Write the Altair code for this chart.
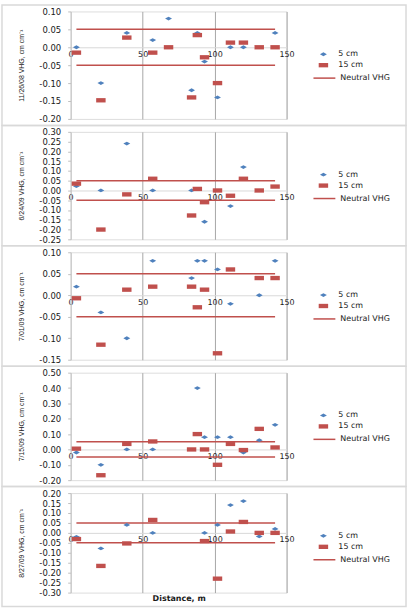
import altair as alt
import pandas as pd

# Sampling positions along the transect (m)
distance = [4, 21, 39, 57, 68, 84, 88, 93, 102, 111, 120, 131, 142]

dates = ["11/26/08", "6/24/09", "7/01/09", "7/15/09", "8/27/09"]

# Vertical hydraulic gradient (cm cm-1) at 5 cm depth, one list per survey
vhg_5cm_081126 = [0.00, -0.10, 0.04, 0.02, 0.08, -0.12, 0.04, -0.04, -0.14, 0.00, 0.00, None, 0.04]
vhg_5cm_090624 = [0.022, 0.00, 0.24, 0.00, None, 0.00, None, -0.16, None, -0.08, 0.12, None, None]
vhg_5cm_090701 = [0.02, -0.04, -0.10, 0.08, None, 0.04, 0.08, 0.08, 0.06, -0.02, None, 0.00, 0.08]
vhg_5cm_090715 = [-0.02, -0.10, 0.00, 0.00, None, None, 0.40, 0.08, 0.08, 0.08, -0.02, 0.06, 0.16]
vhg_5cm_090827 = [-0.02, -0.078, 0.04, 0.00, None, None, None, 0.00, 0.04, 0.14, 0.16, -0.018, 0.02]

# Vertical hydraulic gradient (cm cm-1) at 15 cm depth
vhg_15cm_081126 = [-0.015, -0.148, 0.027, -0.015, 0.00, -0.14, 0.034, -0.028, -0.10, 0.013, 0.013, 0.00, 0.00]
vhg_15cm_090624 = [0.035, -0.20, -0.02, 0.06, None, -0.128, 0.008, -0.06, 0.00, -0.027, 0.06, 0.00, 0.02]
vhg_15cm_090701 = [-0.007, -0.115, 0.013, 0.02, None, 0.02, -0.028, 0.013, -0.135, 0.06, None, 0.04, 0.04]
vhg_15cm_090715 = [0.005, -0.168, 0.036, 0.052, None, 0.00, 0.10, 0.00, -0.10, 0.036, -0.004, 0.134, 0.013]
vhg_15cm_090827 = [-0.031, -0.166, -0.053, 0.065, None, None, None, -0.041, -0.23, 0.007, 0.055, 0.00, 0.00]

vhg_5cm = [vhg_5cm_081126, vhg_5cm_090624, vhg_5cm_090701, vhg_5cm_090715, vhg_5cm_090827]
vhg_15cm = [vhg_15cm_081126, vhg_15cm_090624, vhg_15cm_090701, vhg_15cm_090715, vhg_15cm_090827]

# Y axis ranges and tick labels for each survey panel
y_ticks = [
    [-0.20, -0.15, -0.10, -0.05, 0.00, 0.05, 0.10],
    [-0.25, -0.20, -0.15, -0.10, -0.05, 0.00, 0.05, 0.10, 0.15, 0.20, 0.25, 0.30],
    [-0.15, -0.10, -0.05, 0.00, 0.05, 0.10],
    [-0.20, -0.10, 0.00, 0.10, 0.20, 0.30, 0.40, 0.50],
    [-0.30, -0.25, -0.20, -0.15, -0.10, -0.05, 0.00, 0.05, 0.10, 0.15, 0.20],
]
x_ticks = [0, 50, 100, 150]

# Neutral VHG band (+/- 0.05) drawn across the sampled reach
neutral_vhg = [-0.05, 0.05]
neutral_span = [4, 142]

series_names = ["5 cm", "15 cm"]
series_colors = ["#4F81BD", "#C0504D"]
neutral_color = "#C0504D"

# flattened marker outlines (unit coordinates)
diamond_path = "M-1,0L0,-0.55L1,0L0,0.55Z"
rect_path = "M-1,-0.46L1,-0.46L1,0.46L-1,0.46Z"

FONT = "DejaVu Sans"
TEXT = "#1a1a1a"
PLOT_W = 217


def panel(i, height, last):
    ticks = y_ticks[i]
    lo, hi = ticks[0], ticks[-1]

    rows = []
    for name, values in zip(series_names, [vhg_5cm[i], vhg_15cm[i]]):
        for d, v in zip(distance, values):
            if v is not None:
                rows.append({"distance": d, "vhg": v, "series": name})
    points = pd.DataFrame(rows)

    neutral = pd.DataFrame(
        {"vhg": neutral_vhg, "start": neutral_span[0], "end": neutral_span[1],
         "kind": "Neutral VHG"}
    )

    x_scale = alt.Scale(domain=[0, 150], nice=False, zero=False)
    y_scale = alt.Scale(domain=[lo, hi], nice=False, zero=False)

    # horizontal axis crosses at vhg = 0
    zero_offset = -height * (0 - lo) / (hi - lo)

    x_axis = alt.Axis(
        values=x_ticks,
        offset=zero_offset,
        grid=True,
        gridColor="#a6a6a6",
        gridWidth=1,
        gridOpacity={"condition": {"test": "datum.value === 0", "value": 0}, "value": 1},
        domainColor="#d9d9d9",
        domainWidth=1,
        ticks=False,
        labelOverlap=False,
        labelPadding=3,
        labelFont=FONT,
        labelFontSize=8,
        labelColor=TEXT,
        labelFlush=False,
        title="Distance, m" if last else None,
        titleFont=FONT,
        titleFontSize=8,
        titleFontWeight="bold",
        titleColor=TEXT,
        titleBaseline="top",
        titleY=61.5,
    )
    y_axis = alt.Axis(
        values=ticks,
        format=".2f",
        grid=False,
        domain=True,
        domainColor="#bfbfbf",
        domainWidth=1,
        ticks=True,
        tickColor="#bfbfbf",
        tickSize=3,
        labelOverlap=False,
        labelPadding=7,
        labelFont=FONT,
        labelFontSize=8.5,
        labelColor=TEXT,
        labelFlush=False,
        title=f"{dates[i]} VHG, cm cm\u207b\u00b9",
        titleFont="Liberation Sans",
        titleFontSize=7,
        titleFontWeight="normal",
        titleColor=TEXT,
        titlePadding=14,
    )

    bottom_pad = 14 if last else 6.5
    frame = alt.Chart(alt.Data(values=[{"frame": 1}])).mark_rect(
        fillOpacity=0, stroke="#d9d9d9", strokeWidth=1.5
    ).encode(
        x=alt.value(-69), x2=alt.value(337),
        y=alt.value(-6.5), y2=alt.value(height + bottom_pad),
    )

    legend_font = dict(labelFont=FONT, labelFontSize=8, labelColor=TEXT, title=None,
                       orient="none", rowPadding=2)

    rules = alt.Chart(neutral).mark_rule(strokeWidth=1.5).encode(
        x=alt.X("start:Q", scale=x_scale, axis=x_axis),
        x2="end:Q",
        y=alt.Y("vhg:Q", scale=y_scale, axis=y_axis),
        stroke=alt.Stroke(
            "kind:N",
            scale=alt.Scale(domain=["Neutral VHG"], range=[neutral_color]),
            legend=alt.Legend(legendX=243, legendY=55, symbolType="stroke",
                              symbolSize=484, symbolStrokeWidth=1.5, **legend_font),
        ),
    )

    leg = alt.Legend(legendX=249, legendY=39, symbolStrokeWidth=0, labelOffset=10,
                     **legend_font)
    marks = alt.Chart(points).mark_point(filled=True, opacity=1, strokeWidth=0).encode(
        x=alt.X("distance:Q", scale=x_scale, axis=x_axis),
        y=alt.Y("vhg:Q", scale=y_scale, axis=y_axis),
        fill=alt.Fill("series:N", scale=alt.Scale(domain=series_names, range=series_colors),
                      legend=leg),
        shape=alt.Shape("series:N",
                        scale=alt.Scale(domain=series_names, range=[diamond_path, rect_path]),
                        legend=leg),
        size=alt.Size("series:N", scale=alt.Scale(domain=series_names, range=[48, 90]),
                      legend=leg),
    )

    return alt.layer(frame, rules, marks).properties(width=PLOT_W, height=height)


panels = [panel(i, 100 if i == 4 else 108, i == 4) for i in range(5)]

chart = alt.vconcat(*panels, spacing=13, bounds="flush").resolve_scale(
    x="independent", y="independent", fill="independent", shape="independent",
    size="independent", stroke="independent",
).resolve_legend(
    fill="independent", shape="independent", size="independent", stroke="independent"
).properties(
    padding={"left": 0, "top": 2, "right": 0, "bottom": 2},
    background="white",
).configure_view(
    stroke=None
).configure(
    locale={"number": {"decimal": ".", "thousands": ",", "grouping": [3],
                       "currency": ["$", ""], "minus": "-"}}
)

chart.save("out.html", embed_options={"renderer": "svg", "actions": False})
